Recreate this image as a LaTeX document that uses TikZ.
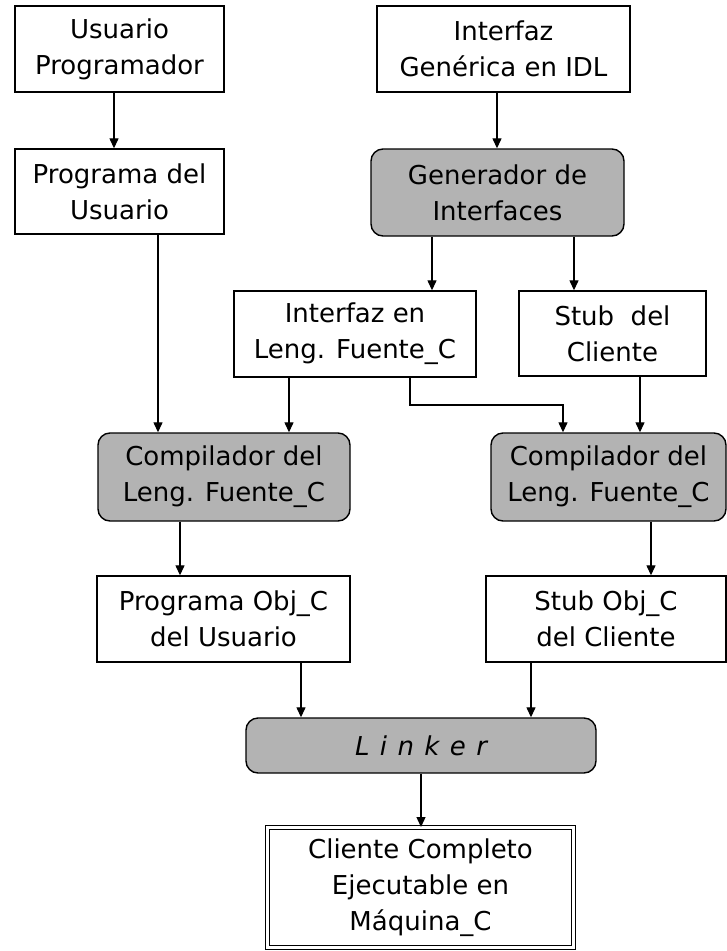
\documentclass[tikz,border=0pt]{standalone}
\usepackage{fontspec}
\setmainfont{DejaVu Sans}
\usetikzlibrary{arrows.meta}
\definecolor{boxgray}{RGB}{179,179,179}
\tikzset{
  box/.style={draw=black, line width=1.4pt, fill=white, align=center, inner sep=0pt,
    font=\fontsize{26}{36}\selectfont},
  procbox/.style={box, fill=boxgray, rounded corners=12pt},
  finalbox/.style={box, double, double distance=2.2pt, line width=1pt},
  arr/.style={line width=1.3pt, -{Triangle[length=10pt,width=9pt]}}
}
\begin{document}
\begin{tikzpicture}[x=1pt,y=-1pt]
\useasboundingbox (0,0) rectangle (727,951);
\node[box, minimum width=209pt, minimum height=86pt] (up) at (119.5,49) {Usuario\\Programador};
\node[box, minimum width=209pt, minimum height=85pt] (pu) at (119.5,191.5) {Programa del\\Usuario};
\node[box, minimum width=253pt, minimum height=86pt] (ig) at (503.5,49) {Interfaz\\Genérica en IDL};
\node[procbox, minimum width=253pt, minimum height=87pt] (gen) at (497.5,192.5) {Generador de\\Interfaces};
\node[box, minimum width=242pt, minimum height=86pt] (ilf) at (355,334) {Interfaz en\\Leng. Fuente\_C};
\node[box, minimum width=187pt, minimum height=85pt] (stub) at (612.5,333.5) {Stub\ \ del\\Cliente};
\node[procbox, minimum width=252pt, minimum height=88pt] (c1) at (224,477) {Compilador del\\Leng. Fuente\_C};
\node[procbox, minimum width=235pt, minimum height=88pt] (c2) at (608.5,477) {Compilador del\\Leng. Fuente\_C};
\node[box, minimum width=253pt, minimum height=86pt] (pobj) at (223.5,619) {Programa Obj\_C\\del Usuario};
\node[box, minimum width=240pt, minimum height=86pt] (sobj) at (606,619) {Stub Obj\_C\\del Cliente};
\node[procbox, minimum width=350pt, minimum height=55pt] (link) at (421,745.5) {{\itshape\addfontfeature{LetterSpace=40}Linker}};
\node[finalbox, minimum width=306pt, minimum height=120pt] (fin) at (420.5,887.5) {Cliente Completo\\Ejecutable en\\Máquina\_C};
\coordinate (xa) at (114,0);
\coordinate (xb) at (497,0);
\coordinate (xc) at (432,0);
\coordinate (xd) at (574,0);
\coordinate (xe) at (158,0);
\coordinate (xf) at (289,0);
\coordinate (xg) at (410,0);
\coordinate (xh) at (563,0);
\coordinate (xi) at (640,0);
\coordinate (xj) at (180,0);
\coordinate (xk) at (651,0);
\coordinate (xl) at (301,0);
\coordinate (xm) at (531,0);
\coordinate (xn) at (421,0);
\coordinate (bend) at (0,405);
\draw[arr] (up.south -| xa) -- (pu.north -| xa);
\draw[arr] (ig.south -| xb) -- (gen.north -| xb);
\draw[arr] (gen.south -| xc) -- (ilf.north -| xc);
\draw[arr] (gen.south -| xd) -- (stub.north -| xd);
\draw[arr] (pu.south -| xe) -- (c1.north -| xe);
\draw[arr] (ilf.south -| xf) -- (c1.north -| xf);
\draw[arr] (ilf.south -| xg) -- (bend -| xg) -- (bend -| xh) -- (c2.north -| xh);
\draw[arr] (stub.south -| xi) -- (c2.north -| xi);
\draw[arr] (c1.south -| xj) -- (pobj.north -| xj);
\draw[arr] (c2.south -| xk) -- (sobj.north -| xk);
\draw[arr] (pobj.south -| xl) -- (link.north -| xl);
\draw[arr] (sobj.south -| xm) -- (link.north -| xm);
\draw[arr] (link.south -| xn) -- (fin.north -| xn);
\end{tikzpicture}
\end{document}
